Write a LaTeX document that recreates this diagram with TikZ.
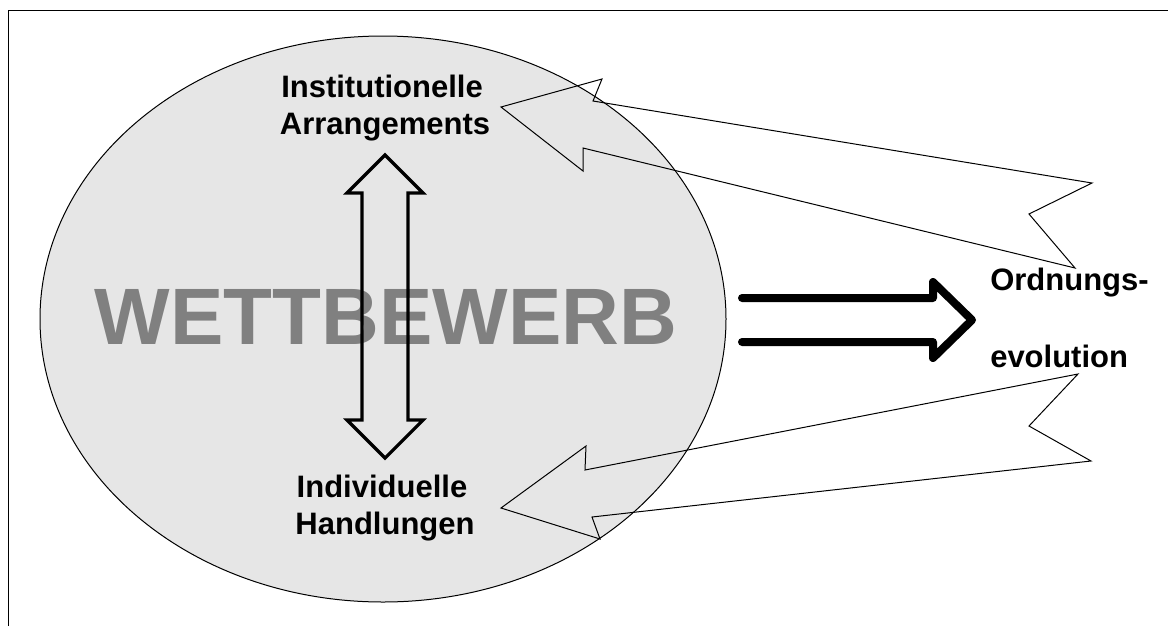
\documentclass[tikz,border=0pt]{standalone}
\usepackage{fontspec}
\setmainfont{Liberation Sans}
\definecolor{bubble}{HTML}{E6E6E6}
\definecolor{watermark}{HTML}{808080}
\begin{document}
\begin{tikzpicture}[x=0.75pt,y=-0.75pt,
  caption/.style={font=\fontsize{23.25}{27}\selectfont\bfseries, inner sep=0pt},
  bigword/.style={font=\fontsize{60}{70}\selectfont\bfseries, text=watermark, inner sep=0pt},
  callout/.style={draw=black, line width=0.75pt, line join=miter},
  twoway/.style={draw=black, line width=2.4pt, line join=miter},
  result/.style={draw=black, line width=6pt, line cap=round, line join=round}]
\useasboundingbox (0,0) rectangle (1168,626);

% frame lines
\draw[line width=0.75pt] (8,626) -- (8,10) -- (1168,10);

% competition bubble
\draw[fill=bubble, line width=0.75pt] (383,319) ellipse [x radius=343, y radius=283];

% big word inside the bubble
\node[bigword, anchor=base] (wb) at (386,344) {WETTBEWERB};

% labels inside the bubble
\node[caption, anchor=base] (inst1) at (382,97) {Institutionelle};
\node[caption, anchor=base] (inst2) at (385,134) {Arrangements};
\node[caption, anchor=base] (ind1) at (382,497) {Individuelle};
\node[caption, anchor=base] (ind2) at (385,534) {Handlungen};

% outcome labels
\node[caption, anchor=base west] (ord1) at (990,290) {Ordnungs-};
\node[caption, anchor=base west] (ord2) at (990,367) {evolution};

% two-way arrow between arrangements and actions
\draw[twoway] (385,155) -- (423,193) -- (408,193) -- (408,420) -- (423,420)
  -- (385,458) -- (347,420) -- (362,420) -- (362,193) -- (347,193) -- cycle;

% implication arrow towards the outcome
\draw[result] (742,298) -- (933,298) -- (933,282) -- (972,320)
  -- (933,358) -- (933,342) -- (742,342);

% feedback arrow to the arrangements
\draw[callout] (501,107) -- (602,79) -- (593,101) -- (1092,183) -- (1029,214)
  -- (1075,268) -- (583,148) -- (583,171) -- cycle;

% feedback arrow to the actions
\draw[callout] (501,508) -- (586,446) -- (585,470) -- (1078,374) -- (1029,426)
  -- (1091,461) -- (592,517) -- (600,539) -- cycle;
\end{tikzpicture}
\end{document}
